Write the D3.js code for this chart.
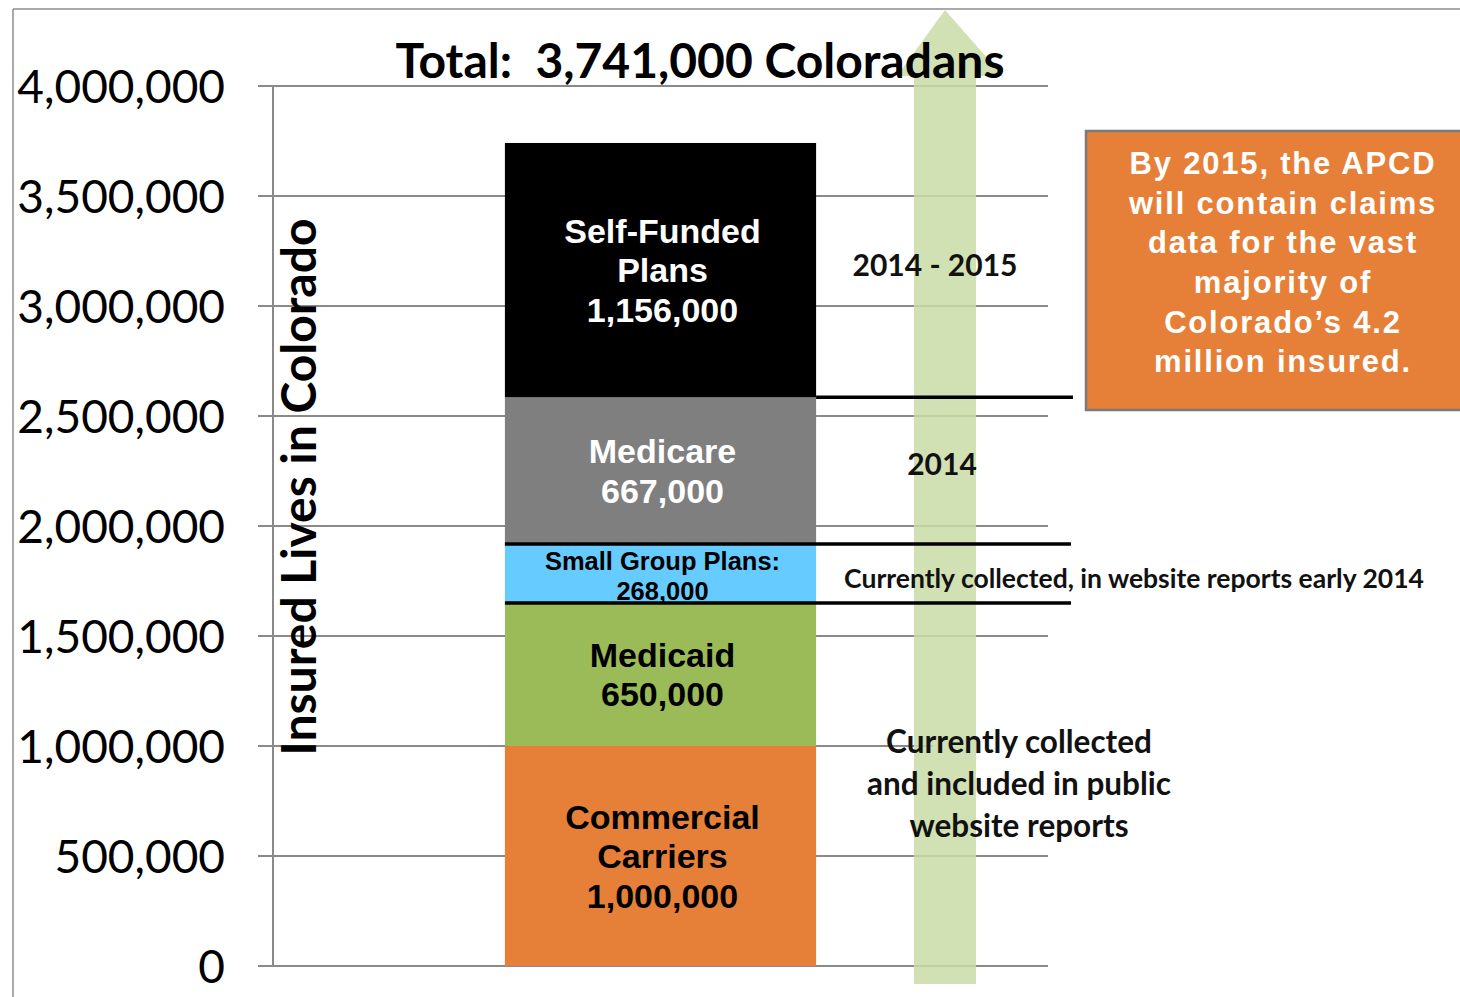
<!DOCTYPE html>
<html><head><meta charset="utf-8">
<script src="https://cdn.jsdelivr.net/npm/d3@7"></script>
<style>html,body{margin:0;padding:0;background:#fff}svg{display:block}</style>
</head><body>
<svg id="chart" width="1460" height="997"></svg>
<script>
// ---- data ----
const categories = ["Commercial Carriers","Medicaid","Small Group Plans","Medicare","Self-Funded Plans"];
const values = [1000000, 650000, 268000, 667000, 1156000];
const labelLines = [["Commercial","Carriers","1,000,000"],["Medicaid","650,000"],["Small Group Plans:","268,000"],["Medicare","667,000"],["Self-Funded","Plans","1,156,000"]];
const yTicks = [0,500000,1000000,1500000,2000000,2500000,3000000,3500000,4000000];
const titleText = "Total:  3,741,000 Coloradans";
const yAxisTitle = "Insured Lives in Colorado";
const boxLines = ["By 2015, the APCD","will contain claims","data for the vast","majority of","Colorado\u2019s 4.2","million insured."];
const barGroup = ["Colorado"];

// ---- styles ----
const fills = ["#e68038","#9bbb59","#66ccff","#7f7f7f","#000000"];
const textFills = ["#000","#000","#000","#fff","#fff"];
const labelSize = [34,34,25.5,34,34];
const labelGap = [39.5,39.5,30,39.5,39.5];
const calibri = "Lato, 'Open Sans', sans-serif";
const arial = "'Liberation Sans', Arial, sans-serif";

const svg = d3.select("#chart");
const y = d3.scaleLinear().domain([0,4000000]).range([966,86]);
const x = d3.scaleBand().domain(barGroup).range([273,1048]).padding(0.427);

// outer frame
svg.append("line").attr("x1",13).attr("x2",13).attr("y1",9).attr("y2",997).attr("stroke","#8c8c8c").attr("stroke-width",1.5);
svg.append("line").attr("x1",13).attr("x2",1460).attr("y1",9).attr("y2",9).attr("stroke","#8c8c8c").attr("stroke-width",1.5);

// gridlines
svg.append("g").selectAll("line").data(yTicks).join("line")
  .attr("x1",258).attr("x2",1048).attr("y1",d=>y(d)).attr("y2",d=>y(d))
  .attr("stroke","#8a8a8a").attr("stroke-width",2);
// vertical axis
svg.append("line").attr("x1",273).attr("x2",273).attr("y1",y(4000000)).attr("y2",y(0)).attr("stroke","#8a8a8a").attr("stroke-width",2);

// tick labels
svg.append("g").selectAll("text").data(yTicks).join("text")
  .attr("x",225).attr("y",d=>y(d)).attr("dy","0.36em").attr("text-anchor","end")
  .attr("font-family",calibri).attr("font-size",46).attr("fill","#000")
  .text(d=>d3.format(",")(d));

// stacked bar
const stack = [];
let acc = 0;
values.forEach((v,i)=>{stack.push({i, y0:acc, y1:acc+v}); acc+=v;});
const total = acc;
const bx = x(barGroup[0]), bw = x.bandwidth();
svg.append("g").selectAll("rect").data(stack).join("rect")
  .attr("x",bx).attr("width",bw)
  .attr("y",d=>y(d.y1)).attr("height",d=>y(d.y0)-y(d.y1))
  .attr("fill",d=>fills[d.i]);

// white patch behind the lower annotation (hides gridline)
svg.append("rect").attr("x",933).attr("y",y(1000000)-8).attr("width",120).attr("height",16).attr("fill","#fff");

// green arrow
const arrowPts = [[945,10],[1003,76],[976,76],[976,984],[914,984],[914,76],[897,76]];
svg.append("polygon").attr("points",arrowPts.map(p=>p.join(",")).join(" "))
  .attr("fill","#c9dca6").attr("opacity",0.85);

// separators
const sep = [
  {v: stack[3].y1, x1: bx+bw, x2: 1073},
  {v: stack[2].y1, x1: bx, x2: 1071},
  {v: stack[1].y1, x1: bx, x2: 1071}
];
svg.append("g").selectAll("line").data(sep).join("line")
  .attr("x1",d=>d.x1).attr("x2",d=>d.x2).attr("y1",d=>y(d.v)).attr("y2",d=>y(d.v))
  .attr("stroke","#000").attr("stroke-width",3.5);

// bar labels
stack.forEach(d=>{
  const lines = labelLines[d.i];
  const cy = (y(d.y0)+y(d.y1))/2 + (d.i===2?2:0);
  const gap = labelGap[d.i];
  lines.forEach((t,k)=>{
    svg.append("text").attr("x",bx+bw/2+2).attr("y",cy+(k-(lines.length-1)/2)*gap)
      .attr("dy","0.36em").attr("text-anchor","middle")
      .attr("font-family",arial).attr("font-weight","bold").attr("font-size",labelSize[d.i])
      .attr("fill",textFills[d.i]).text(t);
  });
});

// title
svg.append("text").attr("x",700).attr("y",78).attr("text-anchor","middle")
  .attr("font-family",calibri).attr("font-weight","bold").attr("font-size",48)
  .attr("fill","#000").style("white-space","pre").text(titleText);

// y axis title
svg.append("text").attr("transform","translate(299,487) rotate(-90)")
  .attr("text-anchor","middle").attr("dy","0.36em")
  .attr("font-family",calibri).attr("font-weight","bold").attr("font-size",48)
  .attr("fill","#000").text(yAxisTitle);

// annotations
const ann = [
  {t:"2014 - 2015", x:935, y:265, s:30},
  {t:"2014", x:942, y:464, s:30},
  {t:"Currently collected, in website reports early 2014", x:1134, y:578, s:26.5},
  {t:"Currently collected", x:1019, y:742, s:31.5},
  {t:"and included in public", x:1019, y:784, s:31.5},
  {t:"website reports", x:1019, y:826, s:31.5}
];
svg.append("g").selectAll("text").data(ann).join("text")
  .attr("x",d=>d.x).attr("y",d=>d.y).attr("dy","0.36em").attr("text-anchor","middle")
  .attr("font-family",calibri).attr("font-weight","bold").attr("font-size",d=>d.s)
  .attr("fill","#111").text(d=>d.t);

// orange call-out box
svg.append("rect").attr("x",1086).attr("y",131).attr("width",400).attr("height",279)
  .attr("fill","#e68038").attr("stroke","#7a7a7a").attr("stroke-width",2.5);
svg.append("g").selectAll("text").data(boxLines).join("text")
  .attr("x",1283).attr("y",(d,i)=>163+i*39.6).attr("dy","0.36em").attr("text-anchor","middle")
  .attr("font-family",arial).attr("font-weight","bold").attr("font-size",31)
  .attr("letter-spacing",1.8)
  .attr("fill","#fff").text(d=>d);
</script>
</body></html>
